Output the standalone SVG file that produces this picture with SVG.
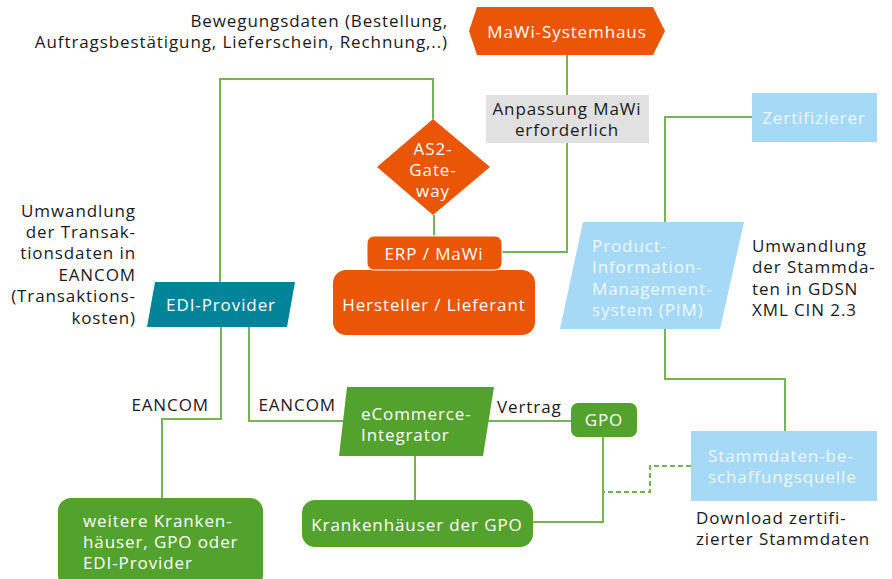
<svg xmlns="http://www.w3.org/2000/svg" width="892" height="579" viewBox="0 0 892 579">
<style>
text{font-family:"Open Sans","Liberation Sans",sans-serif;font-size:17px;letter-spacing:0.9px}
.w{fill:#ffffff}
.k{fill:#1a1a1a}
.lb{fill:#eef8fe}
.or{fill:#ea5506}
.gr{fill:#54a22e}
.ln{fill:none;stroke:#74b550;stroke-width:2}
.dash{fill:none;stroke:#74b550;stroke-width:2;stroke-dasharray:5 3}
.m{text-anchor:middle}
.e{text-anchor:end}
</style>
<rect width="892" height="579" fill="#ffffff"/>
<g id="connectors">
<polyline class="ln" points="567,55 567,252 502,252"/>
<polyline class="ln" points="220,282 220,79 433,79 433,119"/>
<line class="ln" x1="434" y1="215" x2="434" y2="236"/>
<polyline class="ln" points="752,117 665,117 665,222"/>
<polyline class="ln" points="665,329 665,379 785,379 785,431"/>
<polyline class="ln" points="221,327 221,419 162,419 162,498"/>
<polyline class="ln" points="249,327 249,421 343,421"/>
<line class="ln" x1="488" y1="421" x2="571" y2="421"/>
<line class="ln" x1="415" y1="456" x2="415" y2="500"/>
<polyline class="ln" points="603,437 603,522 533,522"/>
<polyline class="dash" points="691,466 650,466 650,492 603,492"/>
</g>
<g id="bewegungsdaten">
<text class="k e"><tspan x="448" y="27">Bewegungsdaten (Bestellung,</tspan><tspan x="448" y="48">Auftragsbestätigung, Lieferschein, Rechnung,..)</tspan></text>
</g>
<g id="mawi-systemhaus">
<polygon class="or" points="469,31 477,7 653,7 665,31 653,55 477,55"/>
<text class="w m" x="567" y="38">MaWi-Systemhaus</text>
</g>
<g id="anpassung">
<rect x="486" y="95" width="163" height="48" fill="#e1e1e1"/>
<text class="k m"><tspan x="567" y="115">Anpassung MaWi</tspan><tspan x="567" y="136">erforderlich</tspan></text>
</g>
<g id="zertifizierer">
<rect x="752" y="93" width="125" height="49" fill="#a5d9f6"/>
<text class="lb m" x="814" y="124">Zertifizierer</text>
</g>
<g id="as2-gateway">
<polygon class="or" points="433,119 490,167 433,215 377,167"/>
<text class="w m"><tspan x="433" y="155">AS2-</tspan><tspan x="433" y="176">Gate-</tspan><tspan x="433" y="197">way</tspan></text>
</g>
<g id="hersteller">
<rect x="333" y="270" width="202" height="65" rx="13" class="or"/>
<text class="w m" x="434" y="311">Hersteller / Lieferant</text>
</g>
<g id="erp-mawi">
<rect x="367" y="236" width="135" height="34" rx="7" class="or" stroke="#ffffff" stroke-width="1"/>
<text class="w m" x="434" y="260">ERP / MaWi</text>
</g>
<g id="umwandlung-transaktion">
<text class="k e"><tspan x="136" y="217">Umwandlung</tspan><tspan x="136" y="238">der Transak-</tspan><tspan x="136" y="259">tionsdaten in</tspan><tspan x="136" y="281">EANCOM</tspan><tspan x="136" y="302">(Transaktions-</tspan><tspan x="136" y="324">kosten)</tspan></text>
</g>
<g id="edi-provider">
<polygon points="155,282 295,282 287,327 147,327" fill="#00849a"/>
<text class="w m" x="221" y="311">EDI-Provider</text>
</g>
<g id="pim">
<polygon points="583,222 744,222 720,329 560,329" fill="#a5d9f6"/>
<text class="lb"><tspan x="592" y="252">Product-</tspan><tspan x="592" y="273">Information-</tspan><tspan x="592" y="295">Management-</tspan><tspan x="592" y="316">system (PIM)</tspan></text>
</g>
<g id="umwandlung-stammdaten">
<text class="k"><tspan x="752" y="252">Umwandlung</tspan><tspan x="752" y="273">der Stammda-</tspan><tspan x="752" y="295">ten in GDSN</tspan><tspan x="752" y="316">XML CIN 2.3</tspan></text>
</g>
<g id="eancom-labels">
<text class="k e" x="209" y="411">EANCOM</text>
<text class="k e" x="336" y="411">EANCOM</text>
<text class="k" x="497" y="413">Vertrag</text>
</g>
<g id="ecommerce-integrator">
<polygon class="gr" points="347,387 494,387 483,456 339,456"/>
<text class="w"><tspan x="361" y="420">eCommerce-</tspan><tspan x="361" y="441">Integrator</tspan></text>
</g>
<g id="gpo">
<rect x="571" y="403" width="66" height="34" rx="7" class="gr"/>
<text class="w m" x="604" y="426">GPO</text>
</g>
<g id="stammdatenquelle">
<rect x="691" y="431" width="186" height="70" fill="#a5d9f6"/>
<text class="lb"><tspan x="708" y="462">Stammdaten-be-</tspan><tspan x="708" y="483">schaffungsquelle</tspan></text>
</g>
<g id="download">
<text class="k"><tspan x="696" y="524">Download zertifi-</tspan><tspan x="696" y="545">zierter Stammdaten</tspan></text>
</g>
<g id="krankenhaeuser-gpo">
<rect x="302" y="500" width="231" height="47" rx="13" class="gr"/>
<text class="w m" x="417" y="531">Krankenhäuser der GPO</text>
</g>
<g id="weitere">
<rect x="58" y="498" width="205" height="90" rx="13" class="gr"/>
<text class="w"><tspan x="83" y="527">weitere Kranken-</tspan><tspan x="83" y="548">häuser, GPO oder</tspan><tspan x="83" y="569">EDI-Provider</tspan></text>
</g>
</svg>
